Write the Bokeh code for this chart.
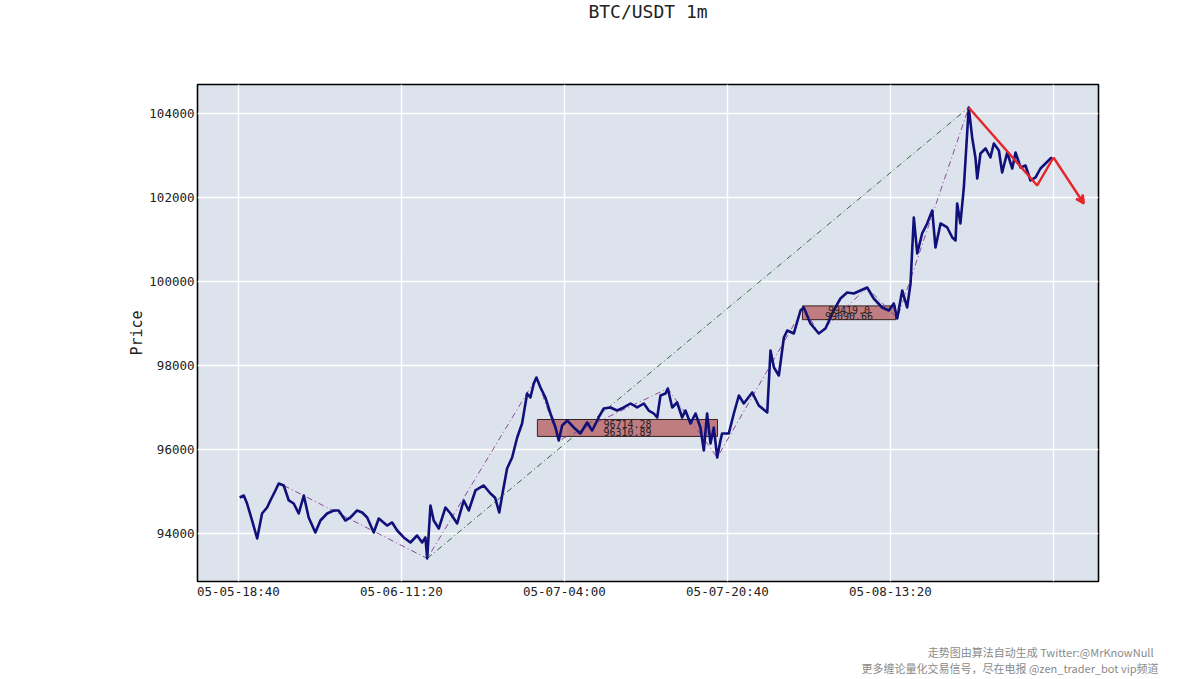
from bokeh.plotting import figure
from bokeh.models import (Range1d, FixedTicker, Title, Arrow, VeeHead, ColumnDataSource,
                          BasicTickFormatter)
from bokeh.embed import file_html
from bokeh.resources import INLINE
from bokeh.core.properties import value

# ---- data (bar index = minutes since 05-05 18:40, price in USDT) ----
bar_idx = [8, 33, 53, 84, 115, 145, 176, 196, 227, 247, 278, 309, 339, 370, 401, 431, 472, 503,
           544, 585, 615, 656, 687, 728, 759, 790, 830, 861, 912, 943, 974, 1014, 1055, 1096,
           1127, 1147, 1158, 1178, 1198, 1229, 1270, 1301, 1342, 1382, 1413, 1454, 1505, 1546,
           1575, 1600, 1620, 1648, 1679, 1710, 1740, 1771, 1791, 1812, 1828, 1853, 1883, 1914,
           1945, 1965, 1986, 2017, 2057, 2098, 2139, 2170, 2210, 2241, 2282, 2323, 2364, 2405,
           2446, 2487, 2517, 2548, 2569, 2589, 2620, 2634, 2661, 2691, 2722, 2742, 2773, 2804,
           2834, 2855, 2875, 2896, 2916, 2937, 2957, 2967, 3008, 3039, 3070, 3100, 3152, 3192,
           3244, 3264, 3285, 3315, 3346, 3367, 3407, 3448, 3468, 3509, 3560, 3601, 3652, 3693,
           3734, 3775, 3816, 3857, 3897, 3949, 3990, 4020, 4041, 4072, 4102, 4123, 4143, 4164,
           4194, 4225, 4256, 4276, 4307, 4348, 4379, 4399, 4409, 4429, 4450, 4460, 4480, 4501,
           4521, 4532, 4552, 4583, 4613, 4634, 4665, 4685, 4716, 4747, 4767, 4798, 4828, 4859,
           4890, 4920, 4951, 4982, 4992]
close = [94857, 94905, 94714, 94309, 93881, 94476, 94619, 94786, 95024, 95190, 95143, 94786,
         94714, 94476, 94905, 94381, 94024, 94309, 94476, 94548, 94548, 94309, 94381, 94548,
         94500, 94381, 94024, 94357, 94190, 94262, 94071, 93905, 93786, 93952, 93786, 93905,
         93405, 94667, 94309, 94119, 94619, 94476, 94238, 94786, 94548, 95024, 95143, 94952,
         94850, 94500, 94950, 95547, 95809, 96286, 96619, 97333, 97238, 97571, 97714, 97476,
         97238, 96857, 96524, 96214, 96571, 96690, 96524, 96381, 96643, 96452, 96762, 96976,
         97000, 96928, 97000, 97095, 97000, 97095, 96928, 96857, 96762, 97286, 97333, 97452,
         97000, 97119, 96762, 96928, 96619, 96857, 96524, 95976, 96857, 96143, 96524, 95809,
         96214, 96381, 96381, 96857, 97286, 97095, 97357, 97048, 96881, 98357, 97952, 97762,
         98667, 98833, 98762, 99309, 99381, 99000, 98762, 98881, 99310, 99595, 99738, 99714,
         99786, 99857, 99595, 99381, 99310, 99476, 99119, 99786, 99381, 99952, 101524, 100667,
         101143, 101381, 101690, 100810, 101381, 101286, 101048, 100976, 101857, 101381,
         102238, 102881, 104143, 103429, 102952, 102452, 103048, 103167, 102952, 103286,
         103119, 102595, 103071, 102690, 103071, 102714, 102762, 102405, 102476, 102690,
         102810, 102929, 102952]

# strokes (bi) pivots
bi_idx = [278, 1158, 1828, 1965, 2634, 2937, 3468, 3560, 3857, 4041, 4480]
bi_price = [95143, 93405, 97714, 96214, 97452, 95809, 99381, 98762, 99857, 99119, 104143]

# segment (xd)
seg_idx = [1158, 4480]
seg_price = [93405, 104143]

# projected path (red)
proj_idx = [4480, 4900, 5000, 5186]
proj_price = [104143, 102286, 102952, 101857]

# pivot zones (zhongshu)
zs_left = [1834, 3460]
zs_right = [2939, 4031]
zs_top = [96714.28, 99419.0]
zs_bottom = [96310.89, 99090.66]
zs_top_txt = ["96714.28", "99419.0"]
zs_bottom_txt = ["96310.89", "99090.66"]

tick_pos = [0, 1000, 2000, 3000, 4000, 5000]
tick_labels = ["05-05-18:40", "05-06-11:20", "05-07-04:00", "05-07-20:40", "05-08-13:20", ""]
y_ticks = [94000, 96000, 98000, 100000, 102000, 104000]

title_text = "BTC/USDT 1m"
footer_1 = "走势图由算法自动生成   Twitter:@MrKnowNull"
footer_2 = "更多缠论量化交易信号，尽在电报 @zen_trader_bot vip频道"

p = figure(frame_width=901, frame_height=497, output_backend="svg", toolbar_location=None,
           x_range=Range1d(-251, 5276), y_range=Range1d(92857, 104690),
           min_border_left=197, min_border_right=100, min_border_top=0, min_border_bottom=0,
           title=None)
p.background_fill_color = "#dde3ed"
p.border_fill_color = "white"
p.outline_line_color = "black"
p.outline_line_width = 1.6

p.xgrid.grid_line_color = "white"
p.ygrid.grid_line_color = "white"
p.xgrid.grid_line_width = 1.4
p.ygrid.grid_line_width = 1.4

p.xaxis.ticker = FixedTicker(ticks=tick_pos)
p.xaxis.major_label_overrides = {t: l for t, l in zip(tick_pos, tick_labels)}
p.yaxis.ticker = FixedTicker(ticks=y_ticks)
p.yaxis.formatter = BasicTickFormatter(use_scientific=False)
for ax in (p.xaxis, p.yaxis):
    ax.axis_line_color = None
    ax.major_tick_line_color = None
    ax.minor_tick_line_color = None
    ax.major_tick_out = 0
    ax.major_tick_in = 0
    ax.minor_tick_out = 0
    ax.minor_tick_in = 0
    ax.major_label_text_font = "DejaVu Sans Mono"
    ax.major_label_text_font_size = "12.5px"
    ax.major_label_text_color = "#222222"
p.xaxis.major_label_standoff = 2
p.yaxis.major_label_standoff = 3
p.yaxis.axis_label = "Price"
p.yaxis.axis_label_text_font = "DejaVu Sans Mono"
p.yaxis.axis_label_text_font_style = "normal"
p.yaxis.axis_label_text_font_size = "15px"
p.yaxis.axis_label_text_color = "#222222"
p.yaxis.axis_label_standoff = 0

# title (above)
p.add_layout(Title(text=title_text, align="center", standoff=0, vertical_align="top",
                   padding=dict(left=0, right=0, top=0, bottom=61),
                   text_font="DejaVu Sans Mono", text_font_size="18px",
                   text_font_style="normal", text_color="#222222"), "above")

# footer (below)
p.add_layout(Title(text=footer_1, align="right", offset=-60, standoff=0,
                   vertical_align="bottom", padding=dict(left=0, right=0, top=40, bottom=0),
                   text_font="Noto Sans CJK SC", text_font_size="11px",
                   text_font_style="normal", text_color="#8a8a8a"), "below")
p.add_layout(Title(text=footer_2, align="right", offset=-60, standoff=0,
                   vertical_align="top",
                   text_font="Noto Sans CJK SC", text_font_size="11px",
                   text_font_style="normal", text_color="#8a8a8a"), "below")

# pivot zones
zs = ColumnDataSource(dict(left=zs_left, right=zs_right, top=zs_top, bottom=zs_bottom))
p.quad(left="left", right="right", top="top", bottom="bottom", source=zs,
       fill_color="#a52a2a", fill_alpha=0.55, line_color="#3a2020", line_width=1)

# segment and strokes
p.line(seg_idx, seg_price, line_color="#2f6b3a", line_width=1, line_dash="6 3 1 3")
p.line(bi_idx, bi_price, line_color="#8a4a9a", line_width=1, line_dash="6 3 1 3")

# price
p.line(bar_idx, close, line_color="#10107a", line_width=2.6, line_join="round")

# projection
p.line(proj_idx[:-1], proj_price[:-1], line_color="#e5262b", line_width=2.4)
p.add_layout(Arrow(end=VeeHead(size=8, line_color="#e5262b", line_width=2.4,
                               fill_color="#e5262b"),
                   x_start=proj_idx[-2], y_start=proj_price[-2],
                   x_end=proj_idx[-1], y_end=proj_price[-1],
                   line_color="#e5262b", line_width=2.4))

# zone labels
zx = [(l + r) / 2 for l, r in zip(zs_left, zs_right)]
zy_hi = [b + 0.72 * (t - b) for t, b in zip(zs_top, zs_bottom)]
zy_lo = [b + 0.26 * (t - b) for t, b in zip(zs_top, zs_bottom)]
p.text(zx, zy_hi, text=zs_top_txt, text_align="center", text_baseline="middle",
       text_font=value("DejaVu Sans Mono"), text_font_size="10px", text_color="#222222")
p.text(zx, zy_lo, text=zs_bottom_txt, text_align="center", text_baseline="middle",
       text_font=value("DejaVu Sans Mono"), text_font_size="10px", text_color="#222222")

open("out.html", "w").write(file_html(p, INLINE))
